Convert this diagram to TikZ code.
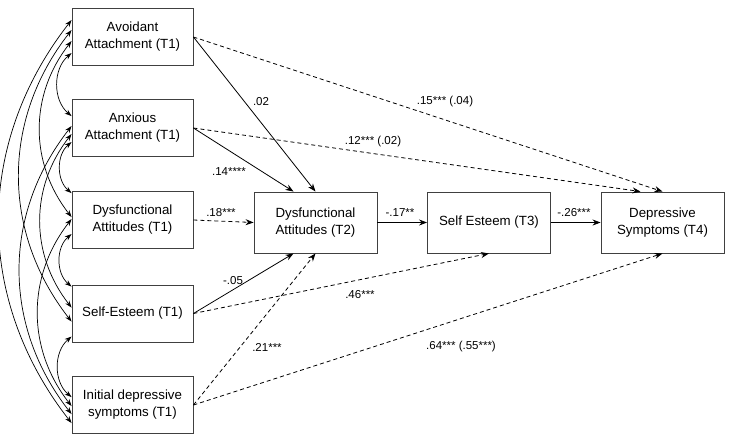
\documentclass[tikz,border=0pt]{standalone}
\usepackage{fontspec}
\setmainfont{Liberation Sans}
\usetikzlibrary{arrows.meta,
  calc,
  positioning
}
\tikzstyle{var} = [draw=black!75, line width=0.9pt, minimum width=121pt,
  minimum height=57pt, align=center, inner sep=2pt,
  font=\fontsize{13.3}{17}\selectfont]
\tikzstyle{outc} = [var, minimum width=123pt, minimum height=61pt]
\tikzstyle{coef} = [font=\fontsize{11.5}{13}\selectfont, inner sep=1pt]
\tikzstyle{reg} = [->, >={Stealth[length=8pt,width=6pt]}, line width=0.8]
\tikzstyle{nsreg} = [reg, dash pattern=on 4pt off 3pt]
\tikzstyle{cov} = [<->, >={Stealth[length=7pt,width=5pt]}, line width=0.7]

\begin{document}
\begin{tikzpicture}[x=1pt,y=-1pt]
  \useasboundingbox (0,0) rectangle (729,440);

  % T1 predictors
  \node[var] (avo) at (132.5, 37) {Avoidant\\Attachment (T1)};
  \node[var] (anx) at (132.5, 128) {Anxious\\Attachment (T1)};
  \node[var] (dys1) at (132.5, 220) {Dysfunctional\\Attitudes (T1)};
  \node[var] (se1) at (132.5, 313.5) {Self-Esteem (T1)};
  \node[var] (ini) at (132.5, 405) {Initial depressive\\symptoms (T1)};

  % mediators and outcome
  \node[outc] (dys2) at (315.5, 222.5) {Dysfunctional\\Attitudes (T2)};
  \node[outc] (se3) at (489, 222.5) {Self Esteem (T3)};
  \node[outc] (dep4) at (662.5, 222.5) {Depressive\\Symptoms (T4)};

  % paths to T2
  \draw[reg] (avo.east) -- (dys2.north);
  \draw[reg] (anx.east) -- ($(dys2.north)+(-22,0)$);
  \draw[nsreg] (dys1.east) -- (dys2.west);
  \draw[reg] (se1.east) -- ($(dys2.south)+(-22,0)$);
  \draw[nsreg] (ini.east) -- (dys2.south);

  % mediation chain
  \draw[reg] (dys2) -- (se3);
  \draw[reg] (se3) -- (dep4);

  % direct paths
  \draw[nsreg] (avo.east) -- (dep4.north);
  \draw[nsreg] (anx.east) -- ($(dep4.north)+(-22,0)$);
  \draw[nsreg] (se1.east) -- (se3.south);
  \draw[nsreg] (ini.east) -- (dep4.south);

  % coefficients
  \node[coef] (c1) at (261, 102) {.02};
  \node[coef] (c2) at (229, 172) {.14****};
  \node[coef] (c3) at (221, 213) {.18***};
  \node[coef] (c4) at (233, 281) {-.05};
  \node[coef] (c5) at (267, 347) {.21***};
  \node[coef] (c6) at (445, 102) {.15*** (.04)};
  \node[coef] (c7) at (373, 142) {.12*** (.02)};
  \node[coef] (c8) at (400, 213) {-.17**};
  \node[coef] (c9) at (574, 213) {-.26***};
  \node[coef] (c10) at (360, 295) {.46***};
  \node[coef] (c11) at (461, 347) {.64*** (.55***)};

  % covariances among T1 variables
  \draw[cov] ($(avo.north west)+(0,45)$) to[bend right=50] ($(anx.north west)+(0,17)$);
  \draw[cov] ($(anx.north west)+(0,43)$) to[bend right=50] ($(dys1.north west)+(0,2)$);
  \draw[cov] ($(dys1.north west)+(0,43)$) to[bend right=50] ($(se1.north west)+(0,2)$);
  \draw[cov] ($(se1.north west)+(0,52)$) to[bend right=50] ($(ini.north west)+(0,21)$);
  \draw[cov] ($(avo.north west)+(0,33)$) to[bend right=38] ($(dys1.north west)+(0,26)$);
  \draw[cov] ($(avo.north west)+(0,22)$) to[bend right=38] ($(se1.north west)+(0,37)$);
  \draw[cov] ($(avo.north west)+(0,12)$) to[bend right=38] ($(ini.north west)+(0,47)$);
  \draw[cov] ($(anx.north west)+(0,35)$) to[bend right=38] ($(se1.north west)+(0,23)$);
  \draw[cov] ($(anx.north west)+(0,27)$) to[bend right=38] ($(ini.north west)+(0,38)$);
  \draw[cov] ($(dys1.north west)+(0,28)$) to[bend right=38] ($(ini.north west)+(0,30)$);
\end{tikzpicture}
\end{document}
